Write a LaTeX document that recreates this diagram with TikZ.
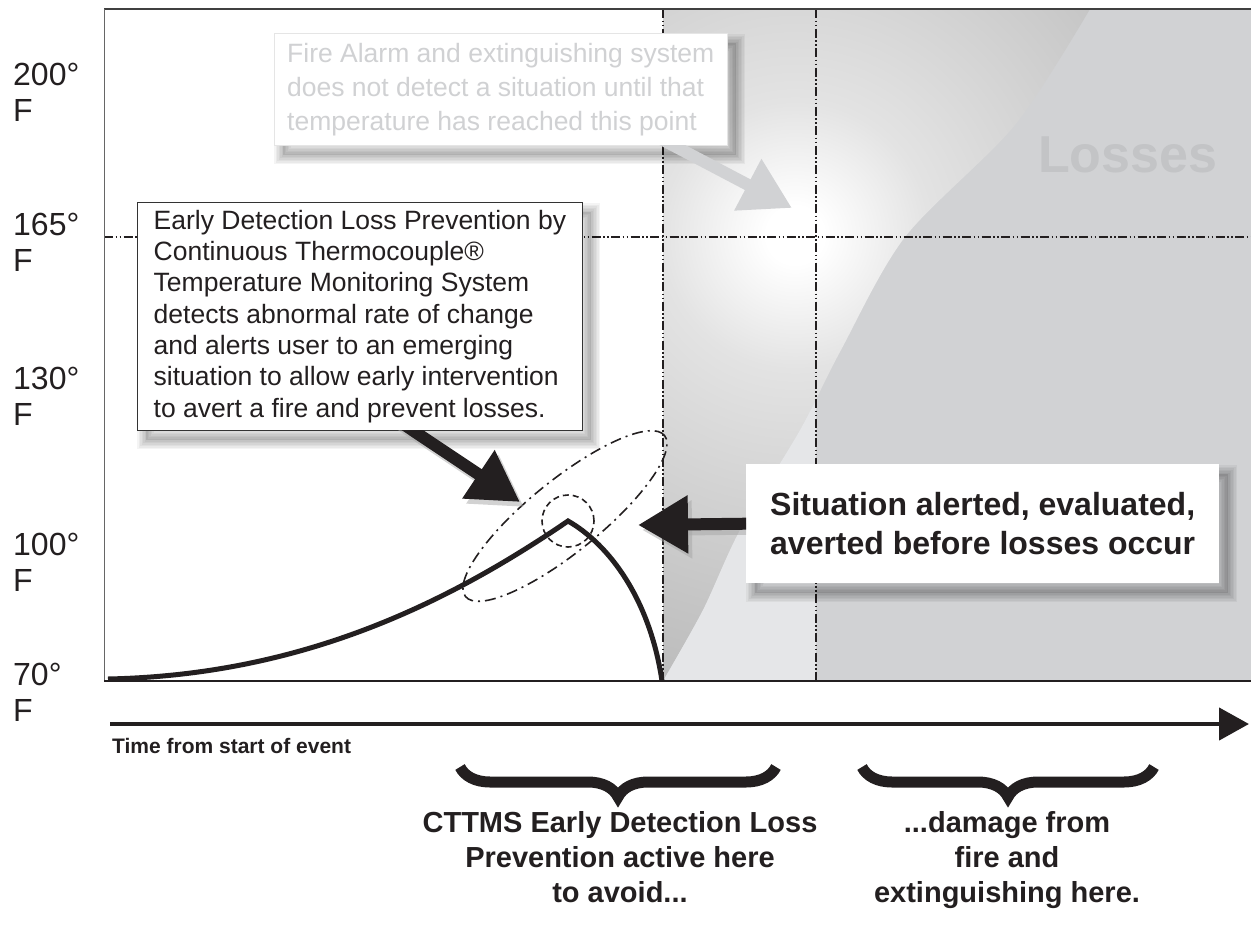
\documentclass[tikz,border=0pt]{standalone}
\usepackage{fontspec}
\setmainfont{Liberation Sans}
\usetikzlibrary{positioning,calc,arrows.meta,decorations.pathreplacing}

\definecolor{ink}{HTML}{231F20}
\definecolor{lossgray}{HTML}{D1D2D4}
\definecolor{stripgray}{HTML}{E5E6E8}
\definecolor{ghosttext}{HTML}{D0D1D3}
\definecolor{lossword}{HTML}{C3C4C6}

\pgfdeclareradialshading{glow}{\pgfpoint{0bp}{0bp}}{%
  color(0bp)=(white); color(1.5bp)=(white); color(4.5bp)=(black!6);
  color(7bp)=(black!11); color(13.5bp)=(black!17); color(20bp)=(black!23);
  color(25bp)=(black!27); color(50bp)=(black!30)}

\begin{document}
\begin{tikzpicture}[x=1pt, y=-1pt,
    templabel/.style={anchor=north west, inner sep=0pt, align=left, text=ink,
      font=\fontsize{32}{36}\selectfont},
    gridline/.style={line width=2pt, ink,
      dash pattern=on 9pt off 2.5pt on 1.5pt off 2.5pt on 1.5pt off 2.5pt},
    shadowstep/.style={preaction={draw=black, draw opacity=0.045, line width=#1,
        transform canvas={shift={(9pt,-10pt)}}}},
    softshadow/.style={
      preaction={fill=black, fill opacity=0.10, transform canvas={shift={(9pt,-10pt)}}},
      shadowstep=3pt, shadowstep=6pt, shadowstep=9pt, shadowstep=12pt, shadowstep=15pt, shadowstep=18pt},
    infobox/.style={fill=white, anchor=north west, align=left, inner xsep=13pt, softshadow},
    bigarrow/.style={line width=12pt, ink, -{Triangle[length=50pt, width=55pt]}},
    arrowshade/.style={line width=12pt, black!35, opacity=0.5, -{Triangle[length=50pt, width=55pt]},
      transform canvas={shift={(4pt,-5pt)}}},
    bracemark/.style={decorate, decoration={brace, mirror, amplitude=30pt}, line width=11pt, ink},
    note/.style={anchor=north, align=center, inner sep=0pt, text=ink,
      font=\fontsize{29}{35}\selectfont\bfseries}
  ]
  \useasboundingbox (0,0) rectangle (1251,937);

  % --- chart area ---
  \fill[lossgray] (663,9) rectangle (1251,681);
  \begin{scope}
    \clip (663,9) -- plot[smooth] coordinates {(1090,9) (1015,125) (905,237) (841,350) (800,430) (740,530) (703,610) (663,681)} -- cycle;
    \shade[shading=glow] (795,235) circle (480pt);
  \end{scope}
  \begin{scope}
    \clip (663,9) rectangle (816,681);
    \fill[stripgray] plot[smooth] coordinates {(1090,9) (1015,125) (905,237) (841,350) (800,430) (740,530) (703,610) (663,681)} -- (1251,681) -- (1251,9) -- cycle;
  \end{scope}
  \node[anchor=base west, inner sep=0pt, text=lossword, font=\fontsize{52}{52}\selectfont\bfseries] (losses) at (1038,172) {Losses};

  \draw[gridline] (663,9) -- (663,681);
  \draw[gridline] (816,9) -- (816,681);
  \draw[gridline] (104,237) -- (1251,237);

  \draw[black!75, line width=2pt] (1251,9) -- (104,9);
  \draw[black!60, line width=1pt] (104,9) -- (104,681);
  \draw[ink, line width=1.5pt] (104,681) -- (1251,681);

  % temperature curve
  \coordinate (start) at (108,679);
  \coordinate (peak) at (568,521);
  \coordinate (drop) at (662,681);
  \draw[ink, line width=5pt] (start) .. controls (300,675) and (445,605) .. (peak)
    .. controls (610,545) and (650,600) .. (drop);

  \draw[ink, line width=1.6pt, dash pattern=on 11pt off 5pt on 2pt off 5pt, rotate around={39:(565,516)}]
    (565,516) ellipse [x radius=128pt, y radius=36pt];
  \draw[ink, line width=1.6pt, dash pattern=on 6pt off 4pt] (peak) circle (26pt);

  % --- boxes ---
  \node[infobox, draw=black!10, text=ghosttext, minimum width=453pt, minimum height=112pt,
    font=\fontsize{26.5}{34}\selectfont] (fire) at (274,33)
    {Fire Alarm and extinguishing system\\does not detect a situation until that\\temperature has reached this point};
  \node[infobox, draw=black!80, line width=0.8pt, text=ink, minimum width=445pt, minimum height=228pt,
    font=\fontsize{26.5}{31.3}\selectfont] (early) at (137,202)
    {Early Detection Loss Prevention by\\Continuous Thermocouple®\\Temperature Monitoring System\\detects abnormal rate of change\\and alerts user to an emerging\\situation to allow early intervention\\to avert a fire and prevent losses.};
  \node[infobox, text=ink, minimum width=473pt, minimum height=119pt,
    font=\fontsize{32}{39}\selectfont\bfseries] (situ) at (746,464)
    {Situation alerted, evaluated,\\averted before losses occur};

  % --- pointers, kept outside their boxes ---
  \coordinate (glowhit) at (792,208);
  \coordinate (peakhit) at (520,502);
  \coordinate (sidehit) at (638,525);
  \begin{scope}
    \clip (fire.south west) rectangle (1251,937);
    \draw[line width=12pt, lossgray, -{Triangle[length=50pt, width=55pt]}, shorten <=-20pt]
      ($(fire.south west)!0.88!(fire.south east)$) -- (glowhit);
  \end{scope}
  \begin{scope}
    \clip (early.south west) rectangle (1251,937);
    \draw[arrowshade, shorten <=-25pt] ($(early.south west)!0.62!(early.south east)$) -- (peakhit);
    \draw[bigarrow, shorten <=-25pt] ($(early.south west)!0.62!(early.south east)$) -- (peakhit);
  \end{scope}
  \begin{scope}
    \clip (0,0) rectangle (situ.south west);
    \draw[arrowshade, shorten <=-10pt] (situ.west) -- (sidehit);
    \draw[bigarrow, shorten <=-10pt] (situ.west) -- (sidehit);
  \end{scope}

  % --- axis labels ---
  \node[templabel] (t200) at (13,63) {200°\\F};
  \node[templabel] (t165) at (13,213) {165°\\F};
  \node[templabel] (t130) at (13,367) {130°\\F};
  \node[templabel] (t100) at (13,533) {100°\\F};
  \node[templabel] (t70) at (13,663) {70°\\F};

  % --- time axis ---
  \coordinate (t0) at (110,724);
  \coordinate (t1) at (1249,724);
  \draw[ink, line width=4.5pt, -{Triangle[length=30pt, width=32pt]}] (t0) -- (t1);
  \node[anchor=base west, inner sep=0pt, text=ink, font=\fontsize{21}{24}\selectfont\bfseries]
    (tlabel) at (112,753) {Time from start of event};

  % --- braces ---
  \coordinate (b1l) at (460,767);
  \coordinate (b1r) at (776,767);
  \coordinate (b2l) at (862,767);
  \coordinate (b2r) at (1154,767);
  \draw[bracemark] (b1l) -- (b1r);
  \draw[bracemark] (b2l) -- (b2r);

  \node[note] (avoid) at (620,811)
    {CTTMS Early Detection Loss\\Prevention active here\\to avoid...};
  \node[note] (damage) at (1007,811)
    {...damage from\\fire and\\extinguishing here.};
\end{tikzpicture}
\end{document}
